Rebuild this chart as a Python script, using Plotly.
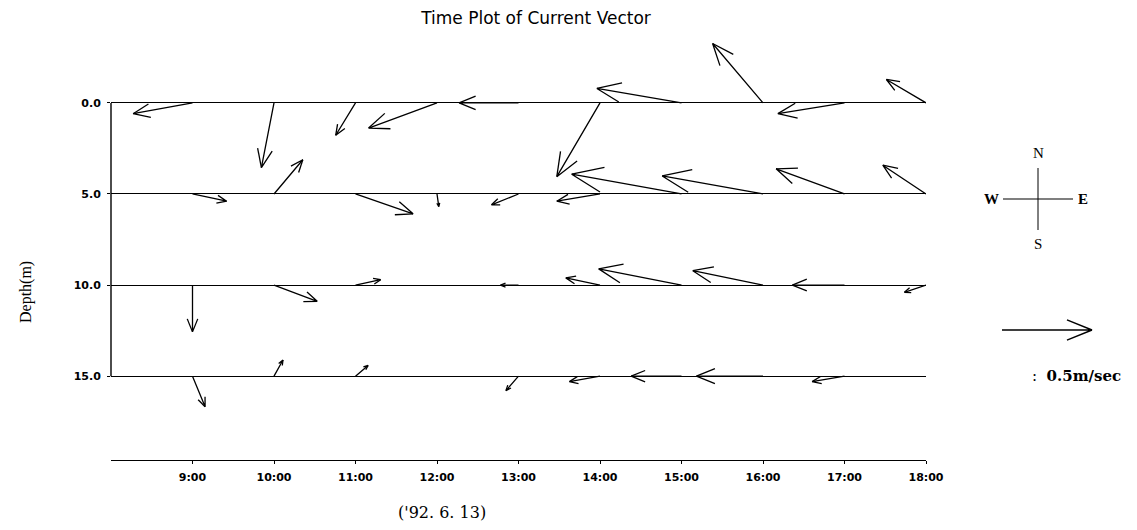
import math
import plotly.graph_objects as go

# ---------------- data ----------------
times = [9, 10, 11, 12, 13, 14, 15, 16, 17, 18]          # hour of day
time_labels = ["9:00", "10:00", "11:00", "12:00", "13:00",
               "14:00", "15:00", "16:00", "17:00", "18:00"]
depths = [0, 5, 10, 15]                                    # m
depth_labels = ["0.0", "5.0", "10.0", "15.0"]

# east (u) and north (v) current components, m/s
u_0m = [-0.33, -0.07, -0.11, -0.38, -0.33, -0.24, -0.47, -0.28, -0.37, -0.22]
v_0m = [-0.06, -0.36, -0.18, -0.14, 0.00, -0.41, 0.08, 0.33, -0.06, 0.13]
u_5m = [0.19, 0.16, 0.32, 0.01, -0.15, -0.24, -0.61, -0.56, -0.38, -0.24]
v_5m = [-0.04, 0.19, -0.11, -0.07, -0.06, -0.04, 0.11, 0.10, 0.14, 0.16]
u_10m = [0.00, 0.24, 0.14, 0.00, -0.10, -0.19, -0.46, -0.39, -0.29, -0.12]
v_10m = [-0.26, -0.09, 0.03, 0.00, 0.00, 0.04, 0.09, 0.08, 0.00, -0.04]
u_15m = [0.07, 0.05, 0.07, 0.00, -0.07, -0.17, -0.28, -0.37, -0.18, 0.00]
v_15m = [-0.17, 0.09, 0.06, 0.00, -0.08, -0.03, 0.00, 0.00, -0.03, 0.00]

u_series = [u_0m, u_5m, u_10m, u_15m]
v_series = [v_0m, v_5m, v_10m, v_15m]

ref_speed = 0.5          # m/s, scale arrow
ref_label = "0.5m/sec"
date_label = "('92. 6. 13)"

# ---------------- layout geometry ----------------
OFF = 8                  # page body margin
W, H = 1137 - OFF, 530 - OFF
ML, MT = 111 - OFF, 30 - OFF
PW, PH = 815, 430
MR, MB = W - ML - PW, H - MT - PH
x_range = [8, 18]
y_range = [19.6, -4.0]
sx = PW / (x_range[1] - x_range[0])      # px per hour
sy = PH / (y_range[0] - y_range[1])      # px per metre
PX_PER_MS = 180.0                        # arrow length px per (m/s)
HEAD_FRAC = 0.3
HEAD_ANG = math.radians(22)
LINE_W = 1.3


def arrow_offsets(u, v):
    """Screen-pixel offsets (y down) of head and the two barbs from the tail."""
    dx, dy = u * PX_PER_MS, -v * PX_PER_MS
    L = math.hypot(dx, dy)
    if L < 1e-9:
        return None
    bx, by = -dx / L, -dy / L
    hl = HEAD_FRAC * L
    barbs = []
    for s in (1, -1):
        a = s * HEAD_ANG
        rx = bx * math.cos(a) - by * math.sin(a)
        ry = bx * math.sin(a) + by * math.cos(a)
        barbs.append((dx + hl * rx, dy + hl * ry))
    return (dx, dy), barbs


xs, ys = [], []
for d, us, vs in zip(depths, u_series, v_series):
    for t, u, v in zip(times, us, vs):
        res = arrow_offsets(u, v)
        if res is None:
            continue
        (hx, hy), barbs = res
        X = lambda px: t + px / sx
        Y = lambda py: d + py / sy
        xs += [t, X(hx), X(barbs[0][0]), None, X(hx), X(barbs[1][0]), None]
        ys += [d, Y(hy), Y(barbs[0][1]), None, Y(hy), Y(barbs[1][1]), None]

fig = go.Figure()
fig.add_trace(go.Scatter(x=xs, y=ys, mode="lines",
                         line=dict(color="black", width=LINE_W),
                         hoverinfo="skip", showlegend=False))


# page pixel -> paper coordinates
def paper_x(px):
    return (px - OFF - ML) / PW


def paper_y(py):
    return (H - MB - (py - OFF)) / PH


shapes = []
# left vertical line joining depth baselines
shapes.append(dict(type="line", xref="paper", yref="y", x0=0, x1=0,
                   y0=min(depths), y1=max(depths),
                   line=dict(color="black", width=1.4)))

# compass
cx, cy, arm = 1038, 199, 35
shapes.append(dict(type="line", xref="paper", yref="paper",
                   x0=paper_x(cx - arm), x1=paper_x(cx + arm),
                   y0=paper_y(cy), y1=paper_y(cy),
                   line=dict(color="black", width=1.2)))
shapes.append(dict(type="line", xref="paper", yref="paper",
                   x0=paper_x(cx), x1=paper_x(cx),
                   y0=paper_y(cy - arm + 4), y1=paper_y(cy + arm - 4),
                   line=dict(color="black", width=1.0)))

# scale arrow
tx, ty = 1002, 330
(hx, hy), barbs = arrow_offsets(ref_speed, 0.0)
path = "M{:.5f},{:.5f} L{:.5f},{:.5f} L{:.5f},{:.5f} M{:.5f},{:.5f} L{:.5f},{:.5f}".format(
    paper_x(tx), paper_y(ty), paper_x(tx + hx), paper_y(ty + hy),
    paper_x(tx + barbs[0][0]), paper_y(ty + barbs[0][1]),
    paper_x(tx + hx), paper_y(ty + hy),
    paper_x(tx + barbs[1][0]), paper_y(ty + barbs[1][1]))
shapes.append(dict(type="path", xref="paper", yref="paper", path=path,
                   line=dict(color="black", width=1.4)))

serif = "Liberation Serif"


def label(text, px, py, size, family=serif, xanchor="center", angle=0):
    return dict(text=text, x=paper_x(px), y=paper_y(py), xref="paper", yref="paper",
                xanchor=xanchor, yanchor="middle", textangle=angle, showarrow=False,
                font=dict(family=family, size=size, color="black"))


annotations = [
    label("N", cx, 153, 15),
    label("S", cx, 244, 15),
    label("<b>W</b>", cx - arm - 2, cy, 15, xanchor="right"),
    label("<b>E</b>", cx + arm + 3, cy, 15, xanchor="left"),
    label(":  <b>" + ref_label + "</b>", 1030, 376, 15, family="DejaVu Serif", xanchor="left"),
    label("Depth(m)", 26, 292, 16, angle=-90),
    label(date_label, 442, 513, 16, family="DejaVu Serif"),
]

tick_font = dict(family="DejaVu Sans", size=11, color="black", weight="bold")

fig.update_layout(
    width=W, height=H,
    margin=dict(l=ML, r=MR, t=MT, b=MB, autoexpand=False),
    paper_bgcolor="white", plot_bgcolor="white",
    title=dict(text="Time Plot of Current Vector", x=(536 - OFF) / W, xref="container",
               xanchor="center", y=1 - (18 - OFF) / H, yref="container", yanchor="middle",
               font=dict(family="DejaVu Sans", size=17, color="black")),
    xaxis=dict(range=x_range, tickvals=times, ticktext=time_labels,
               showgrid=False, zeroline=False, showline=True,
               linecolor="black", linewidth=1.4, ticks="outside", ticklen=3,
               ticklabelstandoff=4,
               tickcolor="black", tickfont=tick_font, fixedrange=True),
    yaxis=dict(range=y_range, tickvals=depths, ticktext=depth_labels,
               showgrid=True, gridcolor="black", gridwidth=1.4,
               zeroline=False, showline=False, ticks="outside", ticklen=3,
               ticklabelstandoff=4,
               tickcolor="black", tickfont=tick_font, fixedrange=True),
    shapes=shapes,
    annotations=annotations,
    showlegend=False,
)

fig.write_html("out.html")
